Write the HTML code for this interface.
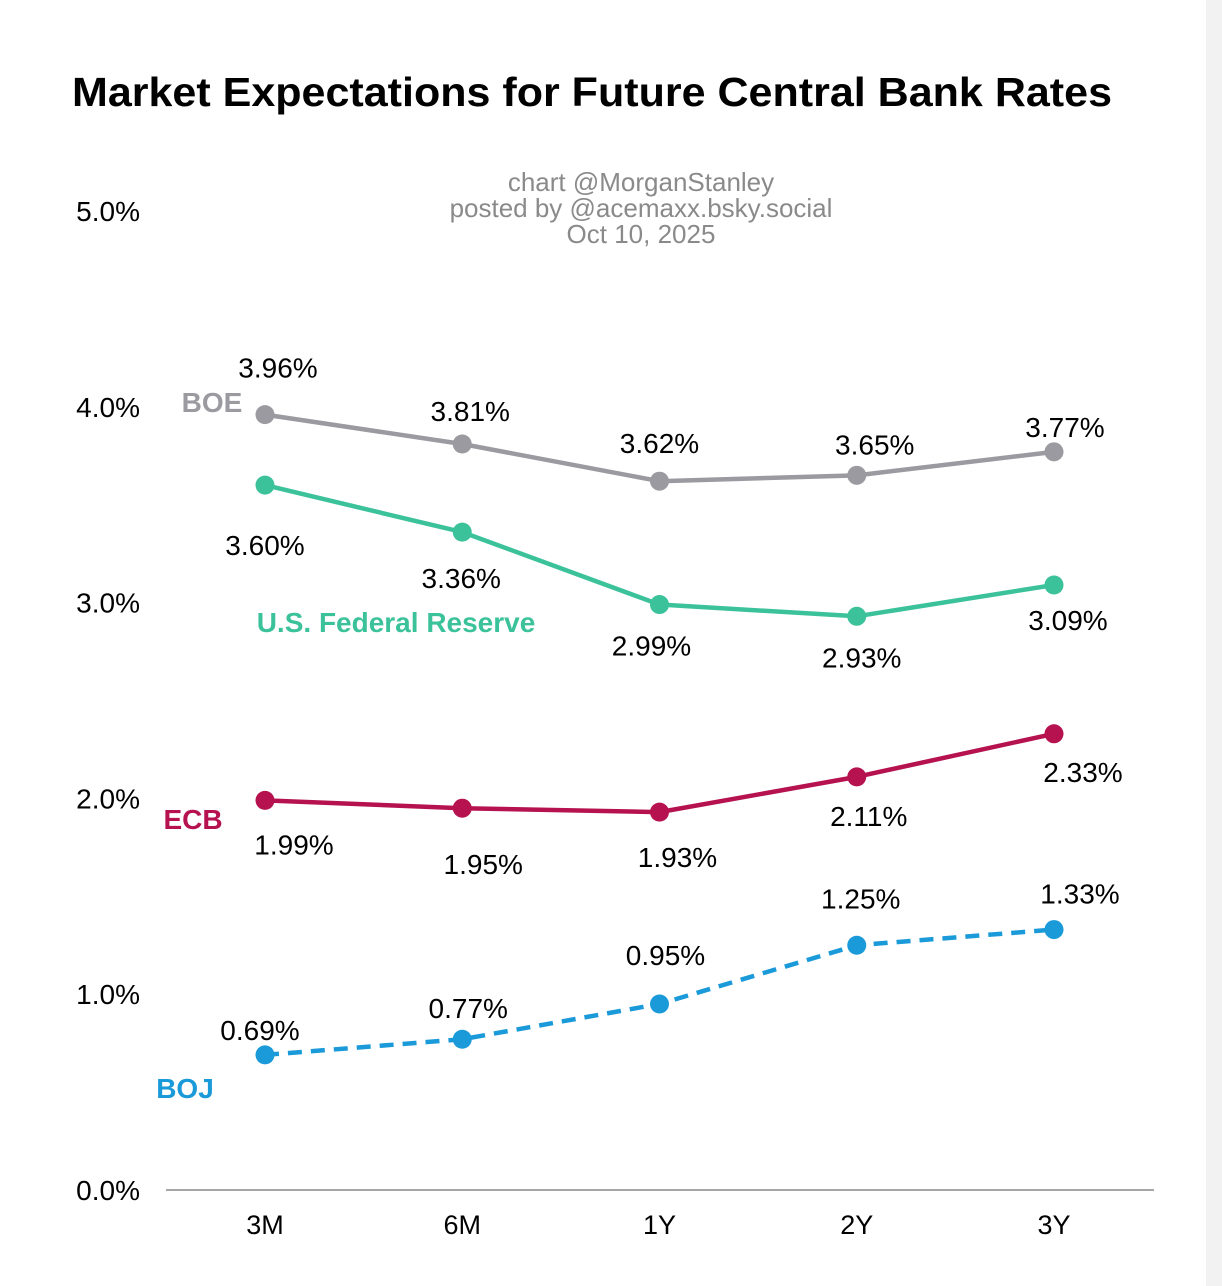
<!DOCTYPE html>
<html><head><meta charset="utf-8"><style>
html,body{margin:0;padding:0;background:#fff;}
body{width:1222px;height:1286px;overflow:hidden;position:relative;font-family:"Liberation Sans",Arial,sans-serif;}
</style></head><body>
<div style="position:absolute;left:1206px;top:0;width:16px;height:1286px;background:#f2f2f2"></div>
<svg id="chart" width="1222" height="1286" style="position:absolute;left:0;top:0">
<text x="72" y="106" textLength="1040" lengthAdjust="spacingAndGlyphs" font-size="41" font-weight="bold" fill="#000">Market Expectations for Future Central Bank Rates</text>
<g fill="#8a8a8a" font-size="26" text-anchor="middle">
<text x="641" y="191">chart @MorganStanley</text>
<text x="641" y="217">posted by @acemaxx.bsky.social</text>
<text x="641" y="243">Oct 10, 2025</text>
</g>
<g id="axes"></g>
<g id="series"></g>
</svg>
<script>
const categories=["3M","6M","1Y","2Y","3Y"];
const yTicks=[0,1,2,3,4,5];
const boe=[3.96,3.81,3.62,3.65,3.77];
const fed=[3.60,3.36,2.99,2.93,3.09];
const ecb=[1.99,1.95,1.93,2.11,2.33];
const boj=[0.69,0.77,0.95,1.25,1.33];

const NS="http://www.w3.org/2000/svg";
function xs(i){return 265+i*197.25;}
function ys(v){return 1190-v*195.8;}
function mk(tag,attrs,parent){const e=document.createElementNS(NS,tag);for(const k in attrs)e.setAttribute(k,attrs[k]);parent.appendChild(e);return e;}
const axes=document.getElementById('axes');
const base=mk('line',{x1:166,x2:1154,y1:ys(0),y2:ys(0),stroke:'#888','stroke-width':1.5},axes);


yTicks.forEach(t=>{const e=mk('text',{x:140,y:ys(t)+10,'text-anchor':'end','font-size':28,fill:'#000'},axes);e.textContent=t.toFixed(1)+'%';

});
categories.forEach((c,i)=>{const e=mk('text',{x:xs(i),y:1234,'text-anchor':'middle','font-size':27,fill:'#000'},axes);e.textContent=c;

});

const defs=[
 {name:'boe',data:boe,color:'#9a9aa0',dash:null,off:[[13,-47],[8,-33],[0,-38],[18,-31],[11,-25]],label:'BOE',lx:212,ly:412},
 {name:'fed',data:fed,color:'#3cc29a',dash:null,off:[[0,60],[-1,46],[-8,41],[5,41],[14,35]],label:'U.S. Federal Reserve',lx:396,ly:632},
 {name:'ecb',data:ecb,color:'#b5124f',dash:null,off:[[29,44],[21,56],[18,45],[12,39],[29,38]],label:'ECB',lx:193,ly:829},
 {name:'boj',data:boj,color:'#1a9ad9',dash:'14 9',off:[[-5,-25],[6,-31],[6,-49],[4,-47],[26,-36]],label:'BOJ',lx:185,ly:1098}
];
const sg=document.getElementById('series');
defs.forEach(s=>{
 const g=mk('g',{},sg);
 
 
 const pts=s.data.map((v,i)=>xs(i)+','+ys(v)).join(' ');
 const pl=mk('polyline',{points:pts,fill:'none',stroke:s.color,'stroke-width':4.5,'stroke-linejoin':'round'},g);
 if(s.dash)pl.setAttribute('stroke-dasharray',s.dash);
 
 
 s.data.forEach((v,i)=>{
  const c=mk('circle',{cx:xs(i),cy:ys(v),r:9.5,fill:s.color},g);
  
  
  const t=mk('text',{x:xs(i)+s.off[i][0],y:ys(v)+s.off[i][1]+10,'text-anchor':'middle','font-size':28,fill:'#000'},g);
  t.textContent=v.toFixed(2)+'%';
  
  
 });
 const n=mk('text',{x:s.lx,y:s.ly,'text-anchor':'middle','font-size':28,'font-weight':'bold',fill:s.color},g);
 n.textContent=s.label;
 
 
});
</script>
</body></html>
